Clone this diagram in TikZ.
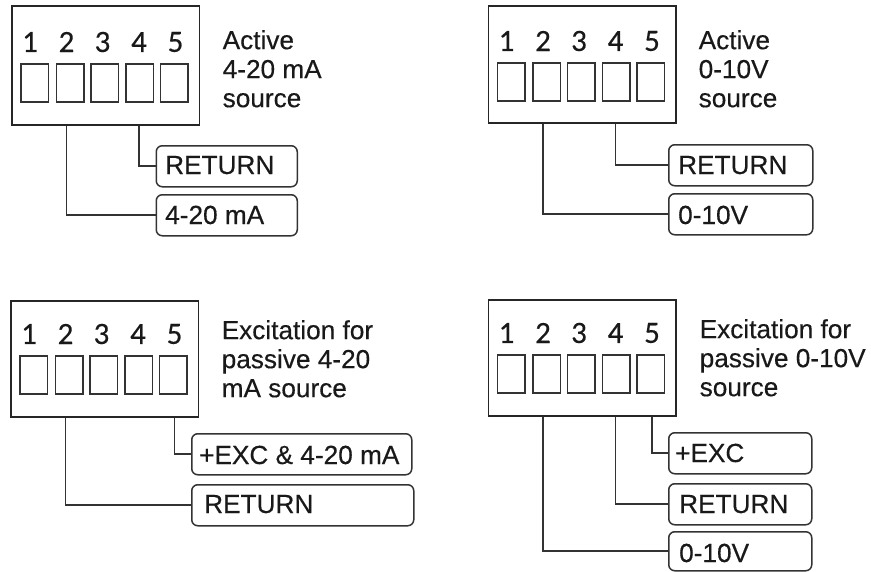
\documentclass[tikz,border=0pt]{standalone}
\usepackage{fontspec}
\setmainfont{Liberation Sans}
\newfontfamily\labelfont{Liberation Sans}[FakeBold=0.4]
\newfontfamily\digitfont{Carlito}[FakeBold=0.3]
\tikzset{
  x=1pt,y=-1pt,
  termbox/.style={draw=black!85,line width=1.6pt,rectangle,inner sep=0pt,minimum width=187.5pt,anchor=north west},
  socketbox/.style={draw=black!80,line width=1.5pt,rectangle,inner sep=0pt,minimum width=27.5pt,minimum height=38pt,anchor=north west},
  digit/.style={font=\digitfont\fontsize{31}{32}\selectfont,inner sep=0pt,text=black!90},
  tag/.style={draw=black!80,line width=1.5pt,rectangle,rounded corners=6pt,inner sep=0pt,minimum height=41pt,anchor=north west},
  tagtext/.style={font=\labelfont\fontsize{26.2}{29}\selectfont,inner sep=0pt,anchor=base west,text=black!90},
  caption/.style={font=\labelfont\fontsize{26.2}{29}\selectfont,inner sep=0pt,anchor=north west,align=left,text=black!90},
  wire/.style={draw=black!80,line width=1.6pt},
}
% #1 prefix, #2 box left, #3 box top, #4 box height, #5 socket top, #6 digit centre y
\newcommand{\terminalblock}[6]{%
  \node[termbox,minimum height=#4] (#1box) at (#2,#3) {};
  \node[socketbox] (#1s1) at (#2+9,#5) {};
  \node[socketbox] (#1s2) at (#2+44.5,#5) {};
  \node[socketbox] (#1s3) at (#2+79,#5) {};
  \node[socketbox] (#1s4) at (#2+114,#5) {};
  \node[socketbox] (#1s5) at (#2+148.5,#5) {};
  \node[digit] (#1d1) at (#2+19,#6) {1};
  \node[digit] (#1d2) at (#2+55.5,#6) {2};
  \node[digit] (#1d3) at (#2+91.5,#6) {3};
  \node[digit] (#1d4) at (#2+128,#6) {4};
  \node[digit] (#1d5) at (#2+164.5,#6) {5};
}
\begin{document}
\begin{tikzpicture}
\useasboundingbox (0,0) rectangle (871,571);

% Panel A
\terminalblock{a}{11}{5}{119pt}{63}{42}
\node[caption] (acap) at (222.5,30) {Active\\4-20 mA\\source};
\node[tag,minimum width=141pt] (aret) at (155.5,145) {};
\node[tagtext] (aretT) at (165,174) {RETURN};
\node[tag,minimum width=141pt] (asig) at (155.5,194) {};
\node[tagtext] (asigT) at (165,224) {4-20 mA};
\draw[wire] (ad4.center |- abox.south) |- (aret.west);
\draw[wire] (ad2.center |- abox.south) |- (asig.west);

% Panel B
\terminalblock{b}{487.5}{5}{117pt}{62}{41}
\node[caption] (bcap) at (698.5,30) {Active\\0-10V\\source};
\node[tag,minimum width=144pt] (bret) at (668,144) {};
\node[tagtext] (bretT) at (678,174) {RETURN};
\node[tag,minimum width=144pt] (bsig) at (668,193) {};
\node[tagtext] (bsigT) at (678,224) {0-10V};
\draw[wire] (bd4.center |- bbox.south) |- (bret.west);
\draw[wire] (bd2.center |- bbox.south) |- (bsig.west);

% Panel C
\terminalblock{c}{10}{300}{116pt}{355}{334}
\node[caption] (ccap) at (221.5,320) {Excitation for\\passive 4-20\\mA source};
\node[tag,minimum width=220pt] (cexc) at (191,433) {};
\node[tagtext] (cexcT) at (199,464) {+EXC \& 4-20 mA};
\node[tag,minimum width=222pt] (cret) at (191,484) {};
\node[tagtext] (cretT) at (204,513) {RETURN};
\draw[wire] (cd5.center |- cbox.south) |- (cexc.west);
\draw[wire] (cd2.center |- cbox.south) |- (cret.west);

% Panel D
\terminalblock{d}{487.5}{299}{116pt}{354}{333}
\node[caption] (dcap) at (699.5,319) {Excitation for\\passive 0-10V\\source};
\node[tag,minimum width=143pt] (dexc) at (668,432) {};
\node[tagtext] (dexcT) at (675,462) {+EXC};
\node[tag,minimum width=143pt] (dret) at (668,483) {};
\node[tagtext] (dretT) at (679,513) {RETURN};
\node[tag,minimum width=143pt,minimum height=39pt] (dsig) at (668,531) {};
\node[tagtext] (dsigT) at (679,562) {0-10V};
\draw[wire] (dd5.center |- dbox.south) |- (dexc.west);
\draw[wire] (dd4.center |- dbox.south) |- (dret.west);
\draw[wire] (dd2.center |- dbox.south) |- (dsig.west);
\end{tikzpicture}
\end{document}
